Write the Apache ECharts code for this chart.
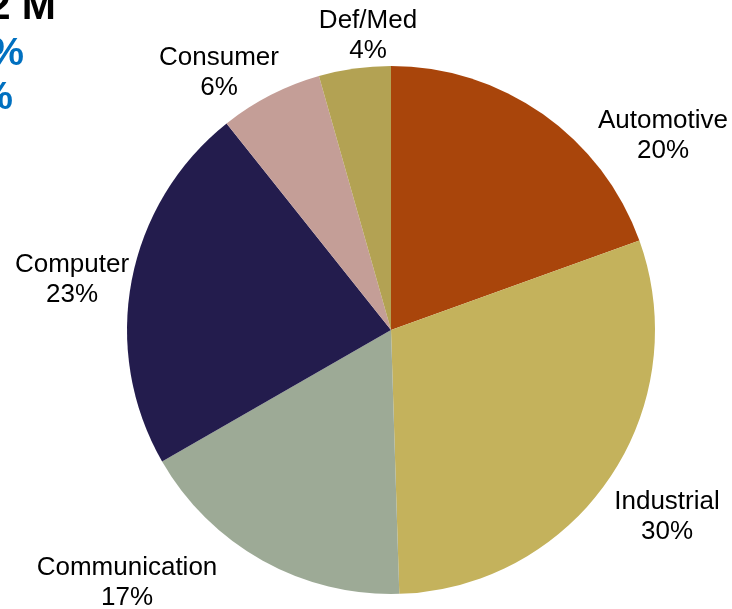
<!DOCTYPE html>
<html>
<head>
<meta charset="utf-8">
<script src="https://cdn.jsdelivr.net/npm/echarts@6/dist/echarts.min.js"></script>
<style>
  html, body { margin: 0; padding: 0; background: #fff; }
  #main { width: 732px; height: 609px; }
</style>
</head>
<body>
<div id="main"></div>
<script>
// segment names and shares (%)
const categories = ['Automotive', 'Industrial', 'Communication', 'Computer', 'Consumer', 'Def/Med'];
const shares = [19.5, 30.0, 17.2, 22.6, 6.3, 4.4];
const colors = ['#A9450B', '#C4B25C', '#9DAA96', '#231C4D', '#C49E97', '#B3A253'];

// where each label block sits (centre of the two lines)
const labelSpots = [[663, 136], [667, 517], [127, 583], [72, 280], [219, 73], [368, 36]];

const myChart = echarts.init(document.getElementById('main'));

myChart.setOption({
  animation: false,
  // cut-off headline text at the top left edge
  graphic: [
    { type: 'text', right: 676, top: -13, style: { text: '2 M', font: 'bold 41px "Liberation Sans", Arial', fill: '#000' } },
    { type: 'text', right: 708, top: 35, style: { text: '%', font: 'bold 39px "Liberation Sans", Arial', fill: '#0070C0' } },
    { type: 'text', right: 719, top: 79, style: { text: '%', font: 'bold 39px "Liberation Sans", Arial', fill: '#0070C0' } }
  ],
  series: [
    {
      type: 'pie',
      center: [391, 330],
      radius: 264,
      startAngle: 90,
      clockwise: true,
      percentPrecision: 0,
      avoidLabelOverlap: false,
      data: categories.map((name, i) => ({
        name: name,
        value: shares[i],
        itemStyle: { color: colors[i] }
      })),
      label: {
        show: true,
        position: 'outside',
        formatter: '{b}\n{d}%',
        fontFamily: '"Liberation Sans", Arial',
        fontSize: 26,
        lineHeight: 30,
        color: '#000',
        align: 'center'
      },
      labelLine: { show: false },
      labelLayout: (params) => ({
        x: labelSpots[params.dataIndex][0],
        y: labelSpots[params.dataIndex][1],
        align: 'center',
        verticalAlign: 'middle'
      }),
      emphasis: { disabled: true }
    }
  ]
});
</script>
</body>
</html>
